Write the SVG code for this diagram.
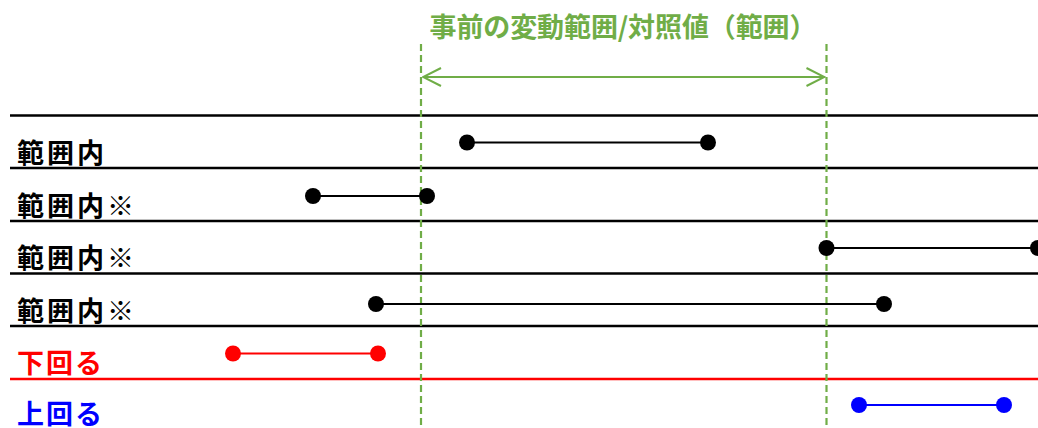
<svg xmlns="http://www.w3.org/2000/svg" width="1038" height="428" viewBox="0 0 1038 428">
<style>
.lbl{font-family:"Noto Sans CJK JP","Noto Sans CJK SC",sans-serif;font-weight:bold;font-size:27px}
.rule{stroke:#000;stroke-width:2.5}
.seg{stroke-width:2.2}
.guide{stroke:#70AD47;stroke-width:2.2;stroke-dasharray:7 4;fill:none}
</style>
<defs>
<marker id="chev" viewBox="0 0 20 20" refX="19" refY="10" markerWidth="20" markerHeight="20" markerUnits="userSpaceOnUse" orient="auto-start-reverse">
<path d="M1,1 L19,10 L1,19" fill="none" stroke="#70AD47" stroke-width="2"/>
</marker>
</defs>
<rect width="1038" height="428" fill="#fff"/>
<g id="rules">
<line class="rule" x1="10" y1="115.5" x2="1038" y2="115.5"/>
<line class="rule" x1="10" y1="168" x2="1038" y2="168"/>
<line class="rule" x1="10" y1="221" x2="1038" y2="221"/>
<line class="rule" x1="10" y1="273.5" x2="1038" y2="273.5"/>
<line class="rule" x1="10" y1="326" x2="1038" y2="326"/>
<line x1="10" y1="379" x2="1038" y2="379" stroke="#FF0000" stroke-width="2.5"/>
</g>
<g id="range">
<line class="guide" x1="421" y1="44" x2="421" y2="428"/>
<line class="guide" x1="826.5" y1="44" x2="826.5" y2="428"/>
<text x="623" y="37" text-anchor="middle" class="lbl" font-size="25" fill="#70AD47" textLength="387" lengthAdjust="spacing">事前の変動範囲/対照値（範囲）</text>
</g>
<g id="connectors">
<line x1="423" y1="77" x2="824.5" y2="77" stroke="#70AD47" stroke-width="2" marker-start="url(#chev)" marker-end="url(#chev)"/>
</g>
<g id="row1">
<text class="lbl" x="17" y="163" textLength="87" lengthAdjust="spacing">範囲内</text>
<line class="seg" x1="467" y1="142.5" x2="708" y2="142.5" stroke="#000"/>
<circle cx="467" cy="142.5" r="8"/><circle cx="708" cy="142.5" r="8"/>
</g>
<g id="row2">
<text class="lbl" x="17" y="216" textLength="117" lengthAdjust="spacing">範囲内※</text>
<line class="seg" x1="313" y1="196" x2="427" y2="196" stroke="#000"/>
<circle cx="313" cy="196" r="8"/><circle cx="427" cy="196" r="8"/>
</g>
<g id="row3">
<text class="lbl" x="17" y="268" textLength="117" lengthAdjust="spacing">範囲内※</text>
<line class="seg" x1="826.5" y1="248" x2="1038" y2="248" stroke="#000"/>
<circle cx="826.5" cy="248" r="8"/><circle cx="1038" cy="248" r="8"/>
</g>
<g id="row4">
<text class="lbl" x="17" y="321" textLength="117" lengthAdjust="spacing">範囲内※</text>
<line class="seg" x1="376" y1="304" x2="884" y2="304" stroke="#000"/>
<circle cx="376" cy="304" r="8"/><circle cx="884" cy="304" r="8"/>
</g>
<g id="below">
<text class="lbl" x="17" y="373" fill="#FF0000" textLength="85" lengthAdjust="spacing">下回る</text>
<line class="seg" x1="233" y1="353.5" x2="378" y2="353.5" stroke="#FF0000"/>
<circle cx="233" cy="353.5" r="8" fill="#FF0000"/><circle cx="378" cy="353.5" r="8" fill="#FF0000"/>
</g>
<g id="above">
<text class="lbl" x="17" y="424" fill="#0000FF" textLength="85" lengthAdjust="spacing">上回る</text>
<line class="seg" x1="859" y1="405" x2="1004" y2="405" stroke="#0000FF"/>
<circle cx="859" cy="405" r="8" fill="#0000FF"/><circle cx="1004" cy="405" r="8" fill="#0000FF"/>
</g>
</svg>
